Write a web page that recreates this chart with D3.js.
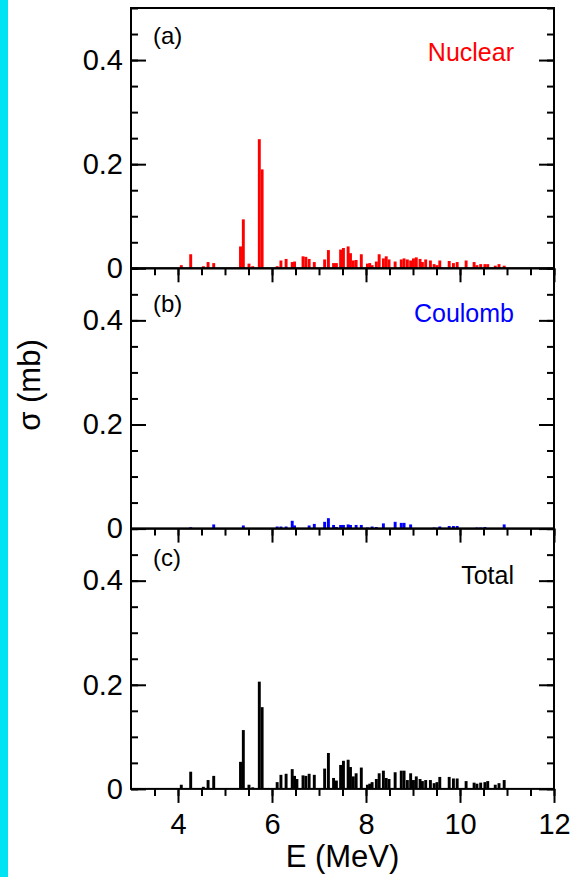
<!DOCTYPE html>
<html>
<head>
<meta charset="utf-8">
<script src="https://cdn.jsdelivr.net/npm/d3@7"></script>
<style>
  body { margin: 0; background: #fff; }
  svg { display: block; }
  .tick line { stroke: #000; stroke-width: 2; }
  .lbl text { font-family: "Liberation Sans", Arial, Helvetica, sans-serif; fill: #000; }
</style>
</head>
<body>
<div id="chart"><svg></svg></div>
<script>
/** Data (E in MeV, sigma in mb) **/
var energies = [4.07, 4.27, 4.54, 4.64, 4.76, 5.33, 5.39, 5.51, 5.59, 5.73, 5.79,
    6.11, 6.19, 6.30, 6.43, 6.48, 6.53, 6.66, 6.72, 6.79, 6.90, 7.12, 7.20, 7.31,
    7.37, 7.46, 7.52, 7.62, 7.67, 7.73, 7.79, 7.90, 8.03, 8.08, 8.13, 8.22, 8.28,
    8.37, 8.43, 8.49, 8.62, 8.75, 8.81, 8.88, 8.95, 9.01, 9.07, 9.15, 9.20, 9.27,
    9.37, 9.45, 9.51, 9.57, 9.77, 9.86, 9.94, 10.13, 10.30, 10.36, 10.44, 10.53,
    10.59, 10.75, 10.83, 10.94];

var nuclear = [0.006, 0.027, 0.004, 0.012, 0.010, 0.042, 0.094, 0.009, 0.004, 0.248, 0.190,
    0.004, 0.015, 0.018, 0.012, 0.013, 0.000, 0.023, 0.022, 0.018, 0.012, 0.017, 0.035, 0.010,
    0.010, 0.036, 0.039, 0.042, 0.029, 0.015, 0.016, 0.027, 0.009, 0.010, 0.006, 0.013, 0.027,
    0.019, 0.023, 0.017, 0.013, 0.017, 0.019, 0.017, 0.015, 0.019, 0.021, 0.018, 0.012, 0.017,
    0.015, 0.008, 0.006, 0.015, 0.014, 0.010, 0.012, 0.015, 0.012, 0.006, 0.008, 0.008,
    0.008, 0.005, 0.008, 0.005];

var coulomb = [0.000, 0.0025, 0.000, 0.000, 0.008, 0.000, 0.006, 0.000, 0.000, 0.000, 0.000,
    0.004, 0.004, 0.004, 0.015, 0.006, 0.000, 0.000, 0.000, 0.006, 0.009, 0.013, 0.020, 0.007,
    0.003, 0.007, 0.007, 0.008, 0.007, 0.000, 0.007, 0.007, 0.002, 0.000, 0.004, 0.003, 0.000,
    0.010, 0.000, 0.000, 0.013, 0.011, 0.011, 0.000, 0.008, 0.000, 0.000, 0.000, 0.000, 0.000,
    0.000, 0.002, 0.000, 0.004, 0.005, 0.005, 0.005, 0.000, 0.000, 0.002, 0.002, 0.003,
    0.000, 0.000, 0.000, 0.008];

var total = [0.008, 0.033, 0.004, 0.017, 0.025, 0.052, 0.113, 0.008, 0.003, 0.206, 0.157,
    0.013, 0.027, 0.029, 0.038, 0.025, 0.019, 0.026, 0.025, 0.029, 0.027, 0.039, 0.069, 0.021,
    0.016, 0.046, 0.054, 0.056, 0.042, 0.024, 0.030, 0.041, 0.008, 0.010, 0.013, 0.019, 0.030,
    0.035, 0.021, 0.019, 0.032, 0.035, 0.035, 0.017, 0.030, 0.017, 0.024, 0.019, 0.015, 0.017,
    0.017, 0.011, 0.013, 0.023, 0.023, 0.020, 0.020, 0.015, 0.012, 0.010, 0.012, 0.013,
    0.015, 0.008, 0.011, 0.017];

var panelTags   = ["(a)", "(b)", "(c)"];
var panelNames  = ["Nuclear", "Coulomb", "Total"];
var panelColors = ["#ff0000", "#0000ff", "#000000"];
var panelSeries = [nuclear, coulomb, total];

var yTickLabels = [0, 0.2, 0.4];
var xTickLabels = [4, 6, 8, 10, 12];


function drawChart()
{
    var mod_width   = 573;
    var mod_height  = 877;
    var chart_x0    = 131;
    var chart_x1    = 554;
    var chart_top   = 8;
    var panel_h     = 260.3;
    var bar_w       = 0.062;            // MeV
    var font        = '"Liberation Sans", Arial, Helvetica, sans-serif';

    // per panel text placement (baselines, px from panel top)
    var tagBase  = [36, 44, 37];
    var nameBase = [53, 54, 55];

    var svg = d3.select("#chart").select("svg")
        .attr("width", mod_width)
        .attr("height", mod_height);

    svg.append("rect")
        .attr("width", mod_width).attr("height", mod_height)
        .style("fill", "#fff");

    // cyan scan edge on the left of the original
    svg.append("rect")
        .attr("x", 0).attr("y", 0)
        .attr("width", 8).attr("height", mod_height)
        .style("fill", "#00e3f2");

    var xScale = d3.scaleLinear()
        .domain([3, 12])
        .range([chart_x0, chart_x1]);

    var yScale = d3.scaleLinear()
        .domain([0, 0.5])
        .range([panel_h, 0]);

    var yMinor = d3.range(0, 0.5001, 0.05);
    var xMinor = d3.range(3.5, 12.001, 0.5);

    panelSeries.forEach(function (series, p) {
        var g = svg.append("g")
            .attr("transform", "translate(0," + (chart_top + p * panel_h) + ")");

        // bars
        g.append("g")
            .selectAll("rect")
            .data(energies.map(function (e, i) { return { e: e, v: series[i] }; })
                .filter(function (d) { return d.v > 0; }))
            .enter()
            .append("rect")
            .attr("x", function (d) { return xScale(d.e - bar_w / 2); })
            .attr("width", function (d) { return xScale(d.e + bar_w / 2) - xScale(d.e - bar_w / 2); })
            .attr("y", function (d) { return yScale(d.v); })
            .attr("height", function (d) { return yScale(0) - yScale(d.v); })
            .style("fill", panelColors[p]);

        // left ticks, inward
        g.append("g").attr("transform", "translate(" + chart_x0 + ",0)")
            .call(d3.axisRight(yScale).tickValues(yMinor).tickSize(7).tickFormat(""));
        g.append("g").attr("transform", "translate(" + chart_x0 + ",0)")
            .call(d3.axisRight(yScale).tickValues(yTickLabels).tickSize(15).tickFormat(""));

        // right ticks, inward
        g.append("g").attr("transform", "translate(" + chart_x1 + ",0)")
            .call(d3.axisLeft(yScale).tickValues(yMinor).tickSize(7).tickFormat(""));
        g.append("g").attr("transform", "translate(" + chart_x1 + ",0)")
            .call(d3.axisLeft(yScale).tickValues(yTickLabels).tickSize(15).tickFormat(""));

        // bottom ticks, pointing down
        g.append("g").attr("transform", "translate(0," + panel_h + ")")
            .call(d3.axisBottom(xScale).tickValues(xMinor).tickSize(7).tickFormat(""));
        g.append("g").attr("transform", "translate(0," + panel_h + ")")
            .call(d3.axisBottom(xScale).tickValues(xTickLabels).tickSize(14).tickFormat(""));

        // y labels
        g.append("g").attr("class", "lbl")
            .attr("transform", "translate(" + chart_x0 + ",0)")
            .call(d3.axisLeft(yScale).tickValues(yTickLabels).tickSize(0).tickPadding(8)
                .tickFormat(function (d) { return d === 0 ? "0" : d3.format(".1f")(d); }))
            .selectAll("text")
            .style("font-size", "29px");

        g.selectAll(".domain").remove();

        // frame
        g.append("rect")
            .attr("x", chart_x0).attr("y", 0)
            .attr("width", chart_x1 - chart_x0).attr("height", panel_h)
            .style("fill", "none")
            .style("stroke", "#000")
            .style("stroke-width", 2);

        g.append("text")
            .attr("x", 153).attr("y", tagBase[p])
            .style("font-family", font).style("font-size", "24px")
            .text(panelTags[p]);

        g.append("text")
            .attr("x", 514).attr("y", nameBase[p])
            .attr("text-anchor", "end")
            .style("font-family", font).style("font-size", "25px")
            .style("fill", panelColors[p])
            .text(panelNames[p]);
    });

    var chart_bottom = chart_top + 3 * panel_h;

    // x labels
    svg.append("g").attr("class", "lbl")
        .attr("transform", "translate(0," + chart_bottom + ")")
        .call(d3.axisBottom(xScale).tickValues(xTickLabels).tickSize(0).tickPadding(25))
        .selectAll("text")
        .style("font-size", "29px");
    svg.selectAll(".lbl .domain").remove();

    svg.append("text")
        .attr("x", (chart_x0 + chart_x1) / 2)
        .attr("y", 867)
        .attr("text-anchor", "middle")
        .style("font-family", font).style("font-size", "31px")
        .text("E (MeV)");

    svg.append("text")
        .attr("transform", "translate(40,385) rotate(-90)")
        .attr("text-anchor", "middle")
        .style("font-family", font).style("font-size", "31px")
        .text("σ (mb)");
}

drawChart();
</script>
</body>
</html>
